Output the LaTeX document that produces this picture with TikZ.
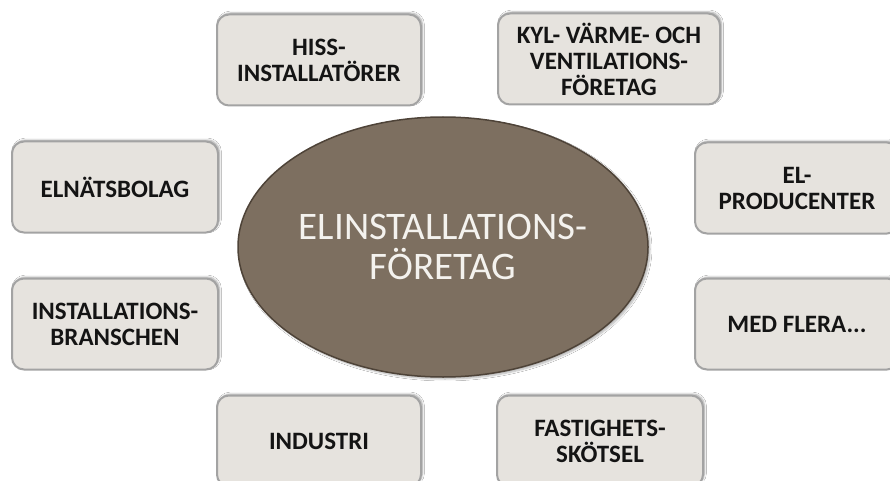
\documentclass[tikz,border=0pt]{standalone}
\usepackage{fontspec}
\setmainfont{Carlito}
\usetikzlibrary{shapes.geometric,shadows.blur}
\definecolor{boxfill}{HTML}{E6E3DE}
\definecolor{boxline}{HTML}{A3A3A3}
\definecolor{ovalfill}{HTML}{7D6F60}
\definecolor{ovalline}{HTML}{4E4338}
\definecolor{ovaltext}{HTML}{F4F2EE}
\definecolor{boxtext}{HTML}{141414}
\tikzset{
  sbox/.style={rectangle, rounded corners=12pt, minimum width=204pt, minimum height=91pt,
    fill=boxfill, draw=boxline, line width=2pt, align=center, text=boxtext,
    font=\fontsize{25}{26}\selectfont\bfseries, inner sep=0pt,
    blur shadow={shadow xshift=1.5pt, shadow yshift=1.5pt, shadow blur steps=5, shadow opacity=35}},
  oval/.style={ellipse, minimum width=410pt, minimum height=260pt, inner sep=0pt,
    fill=ovalfill, draw=ovalline, line width=1.5pt, align=center, text=ovaltext,
    font=\fontsize{39}{40}\selectfont,
    blur shadow={shadow xshift=2pt, shadow yshift=-2pt, shadow blur steps=6, shadow opacity=30}}
}
\begin{document}
\begin{tikzpicture}[x=1pt,y=-1pt]
\path[use as bounding box, fill=white] (0,0) rectangle (890,481);
\begin{scope}
\clip (0,0) rectangle (890,481);
\node[oval] (center) at (443,247) {ELINSTALLATIONS-\\FÖRETAG};
\node[sbox] (hiss) at (319,60) {HISS-\\INSTALLATÖRER};
\node[sbox, minimum width=222pt] (kyl) at (609,59) {KYL- VÄRME- OCH\\VENTILATIONS-\\FÖRETAG};
\node[sbox, minimum width=206pt] (elnat) at (115,187) {ELNÄTSBOLAG};
\node[sbox, minimum width=206pt] (inst) at (115,324) {INSTALLATIONS-\\BRANSCHEN};
\node[sbox, minimum width=204pt] (elprod) at (797,188) {EL-\\PRODUCENTER};
\node[sbox, minimum width=204pt] (med) at (797,324) {MED FLERA...};
\node[sbox] (ind) at (319,441) {INDUSTRI};
\node[sbox, minimum width=206pt] (fast) at (600,441) {FASTIGHETS-\\SKÖTSEL};
\end{scope}
\end{tikzpicture}
\end{document}
